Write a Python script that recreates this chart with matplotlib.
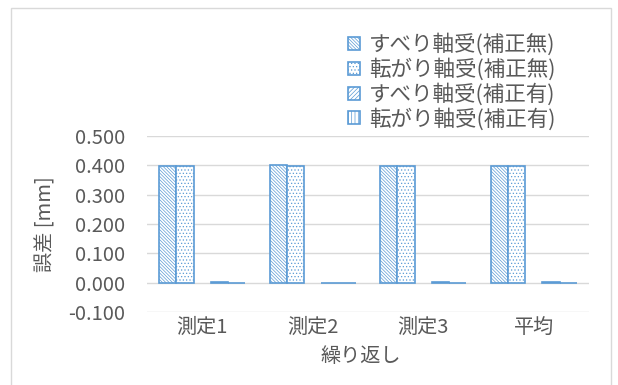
import numpy as np
import matplotlib
matplotlib.use('Agg')
import matplotlib.pyplot as plt
from matplotlib.patches import Rectangle

plt.rcParams['font.family'] = ['Noto Sans CJK JP', 'DejaVu Sans']

categories = ['測定1', '測定2', '測定3', '平均']
series_names = ['すべり軸受(補正無)', '転がり軸受(補正無)', 'すべり軸受(補正有)', '転がり軸受(補正有)']
slide_raw = [0.398, 0.400, 0.398, 0.398]
roll_raw = [0.397, 0.398, 0.397, 0.397]
slide_corr = [0.003, -0.001, 0.002, 0.002]
roll_corr = [-0.001, -0.001, -0.001, -0.001]
yticks = [-0.1, 0.0, 0.1, 0.2, 0.3, 0.4, 0.5]

blue = '#5B9BD5'
gray = '#595959'
hatches = ['\\' * 10, '.....', '/' * 8, '|||||']
plt.rcParams['hatch.linewidth'] = 0.5

fig = plt.figure(figsize=(6.18, 3.85), dpi=100)
ax = fig.add_axes([0.238, 0.19, 0.715, 0.457])

x = np.arange(len(categories))
w = 0.156
offsets = [-2, -1, 1, 2]
data = [slide_raw, roll_raw, slide_corr, roll_corr]
handles = []
for vals, off, h, name in zip(data, offsets, hatches, series_names):
    b = ax.bar(x + off * w, vals, w, color='white', edgecolor=blue,
               hatch=h, linewidth=1.2, label=name, zorder=3)
    handles.append(b)

ax.set_xlim(-0.5, len(categories) - 0.5)
ax.set_ylim(-0.1, 0.5)
ax.set_yticks(yticks)
ax.set_yticklabels([f'{v:.3f}' for v in yticks])
ax.set_xticks(x)
ax.set_xticklabels(categories)
ax.grid(axis='y', color='#D9D9D9', linewidth=1, zorder=0)
for s in ax.spines.values():
    s.set_visible(False)
ax.tick_params(axis='y', length=0, pad=16, labelsize=14.5, labelcolor=gray)
ax.tick_params(axis='x', length=0, pad=4, labelsize=14.5, labelcolor=gray)

ax.set_ylabel('誤差 [mm]', fontsize=14.5, color=gray)
ax.yaxis.set_label_coords(-0.205, 0.5)
fig.text(0.583, 0.073, '繰り返し', fontsize=14.5, color=gray, ha='center', va='center')

fig.legend(handles=handles, loc='upper right', bbox_to_anchor=(0.923, 0.952),
           frameon=False, fontsize=15.5, labelcolor=gray, handlelength=0.55,
           handleheight=0.55, handletextpad=0.4, labelspacing=0.1,
           borderpad=0.2)

# outer chart frame
fig.patches.append(Rectangle((0.018, -0.01), 0.97, 0.99, transform=fig.transFigure,
                             fill=False, edgecolor='#D9D9D9', linewidth=1))

fig.savefig('out.png', dpi=100)
